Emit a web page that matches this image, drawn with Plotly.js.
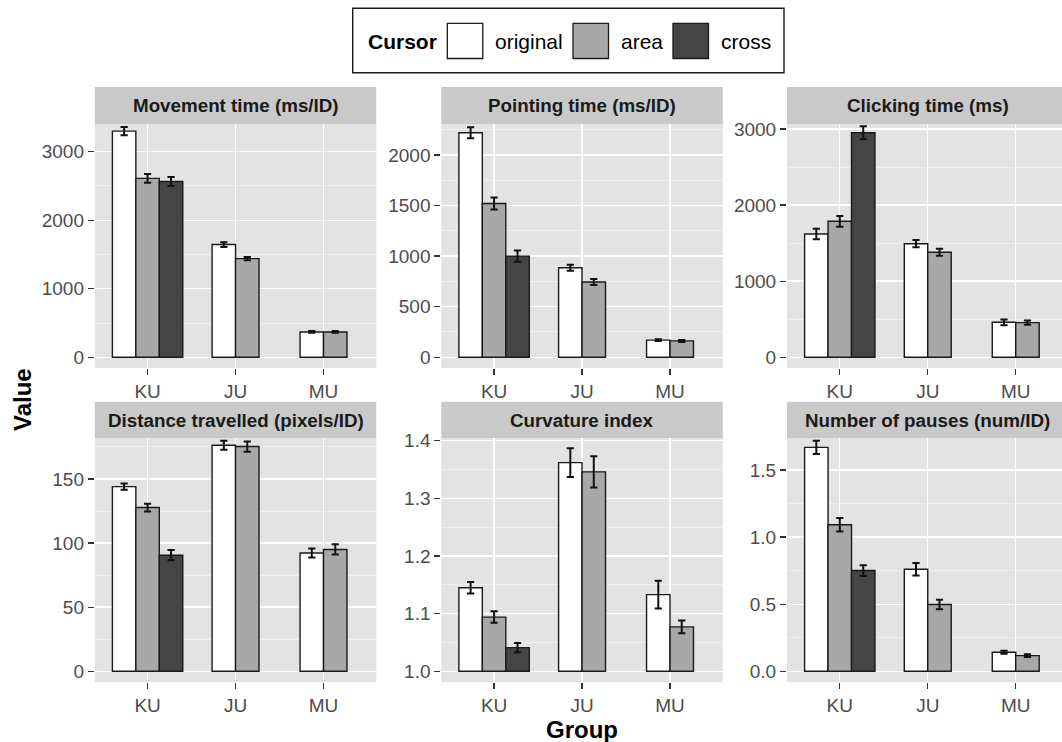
<!DOCTYPE html>
<html>
<head>
<meta charset="utf-8">
<script src="https://cdn.plot.ly/plotly-3.0.1.min.js"></script>
<style>html,body{margin:0;padding:0;background:#fff;}#chart{width:1062px;height:742px;}</style>
</head>
<body>
<div id="chart"></div>
<script>
// ---------------- DATA ----------------
const groups = ['KU', 'JU', 'MU'];
const cursors = ['original', 'area', 'cross'];
const metrics = ['Movement time (ms/ID)', 'Pointing time (ms/ID)', 'Clicking time (ms)',
                 'Distance travelled (pixels/ID)', 'Curvature index', 'Number of pauses (num/ID)'];

// means per metric (rows) for groups KU, JU, MU
const originalMean = [
  [3300, 1645, 370],
  [2220, 885, 170],
  [1620, 1493, 460],
  [144.0, 176.3, 92.3],
  [1.145, 1.362, 1.133],
  [1.669, 0.761, 0.142]
];
const originalErr = [
  [60, 35, 12],
  [55, 30, 8],
  [70, 48, 38],
  [2.5, 3.5, 3.5],
  [0.010, 0.025, 0.024],
  [0.050, 0.047, 0.012]
];
const areaMean = [
  [2610, 1440, 370],
  [1520, 744, 162],
  [1787, 1380, 455],
  [127.7, 175.3, 95.0],
  [1.094, 1.346, 1.077],
  [1.092, 0.498, 0.117]
];
const areaErr = [
  [65, 25, 12],
  [60, 30, 10],
  [70, 45, 28],
  [3.0, 4.0, 4.0],
  [0.010, 0.027, 0.011],
  [0.050, 0.035, 0.010]
];
// cross cursor only measured in KU
const crossGroups = ['KU'];
const crossMean = [[2565], [1000], [2951], [90.5], [1.041], [0.751]];
const crossErr = [[65], [55], [85], [4.0], [0.008], [0.040]];

// y-axis settings per panel
const yRanges = [[-156, 3399], [-106, 2303], [-141, 3062], [-8.6, 181.7], [0.9809, 1.4042], [-0.082, 1.7366]];
const yDticks = [1000, 500, 1000, 50, 0.1, 0.5];
const yFormats = ['', '', '', '', '.1f', '.1f'];
const barBases = [0, 0, 0, 0, 1.0, 0];

// ---------------- STYLE / LAYOUT ----------------
const W = 1062, H = 742;
const px = x => x / W;
const py = y => 1 - y / H;
const colors = {original: '#ffffff', area: '#a8a8a8', cross: '#454545'};
const panelBg = '#e3e3e3';
const stripBg = '#c9c9c9';
const FONT = 'Liberation Sans, Arial, Helvetica, sans-serif';
const colDom = [[94.8, 376.3], [441.3, 722.8], [787, 1062]];
const rowDom = [[124.3, 368], [438.3, 682.3]];
const stripDom = [[87, 124.3], [401.7, 438.3]];
const unitPx = (376.3 - 94.8) / 3.2;
const barW = 0.8 / 3;
const TICK_SIZE = 19;
const STRIP_SIZE = 18.8;

const seriesMean = {original: originalMean, area: areaMean, cross: crossMean};
const seriesErr = {original: originalErr, area: areaErr, cross: crossErr};
const seriesGroups = {original: groups, area: groups, cross: crossGroups};

// dodge: count series present in each group, place bars side by side
function dodgeOffsets(cursorName) {
  const gs = seriesGroups[cursorName];
  return gs.map(g => {
    const present = cursors.filter(c => seriesGroups[c].includes(g));
    const n = present.length;
    const k = present.indexOf(cursorName);
    return -n * barW / 2 + k * barW;
  });
}

const traces = [];
const layout = {
  width: W, height: H,
  margin: {l: 0, r: 0, t: 0, b: 0},
  paper_bgcolor: '#ffffff',
  plot_bgcolor: panelBg,
  barmode: 'overlay',
  showlegend: false,
  font: {family: FONT, color: '#4d4d4d', size: TICK_SIZE},
  shapes: [],
  annotations: []
};

for (let i = 0; i < 6; i++) {
  const row = Math.floor(i / 3), col = i % 3;
  const sfx = i === 0 ? '' : String(i + 1);
  const xa = 'x' + sfx, ya = 'y' + sfx;
  cursors.forEach(c => {
    const base = barBases[i];
    const ys = seriesMean[c][i].map(v => v - base);
    traces.push({
      type: 'bar',
      name: c,
      x: seriesGroups[c],
      y: ys,
      base: seriesGroups[c].map(() => base),
      width: barW,
      offset: dodgeOffsets(c),
      xaxis: xa, yaxis: ya,
      marker: {color: colors[c], line: {color: '#1a1a1a', width: 1.4}},
      error_y: {type: 'data', array: seriesErr[c][i], visible: true, color: '#111111', thickness: 2, width: 3.6},
      hoverinfo: 'x+y+name'
    });
  });

  const cd = colDom[col], rd = rowDom[row];
  const xRangeEnd = -0.6 + (cd[1] - cd[0]) / unitPx;
  layout['xaxis' + sfx] = {
    domain: [px(cd[0]), px(cd[1])],
    anchor: ya,
    type: 'category',
    categoryorder: 'array', categoryarray: groups,
    range: [-0.6, xRangeEnd],
    showgrid: true, gridcolor: '#ffffff', gridwidth: 1.4,
    zeroline: false, showline: false,
    ticks: 'outside', ticklen: 6, tickwidth: 1.3, tickcolor: '#333333',
    tickfont: {family: FONT, size: TICK_SIZE, color: '#4d4d4d'},
    fixedrange: true
  };
  layout['yaxis' + sfx] = {
    domain: [py(rd[1]), py(rd[0])],
    anchor: xa,
    range: yRanges[i],
    tick0: 0, dtick: yDticks[i],
    tickformat: yFormats[i],
    showgrid: true, gridcolor: '#ffffff', gridwidth: 1.4,
    minor: {dtick: yDticks[i] / 2, showgrid: true, gridcolor: '#f4f4f4', gridwidth: 0.7},
    zeroline: false, showline: false,
    ticks: 'outside', ticklen: 6, tickwidth: 1.3, tickcolor: '#333333',
    tickfont: {family: FONT, size: TICK_SIZE, color: '#4d4d4d'},
    fixedrange: true
  };

  // facet strip
  const sd = stripDom[row];
  layout.shapes.push({
    type: 'rect', xref: 'paper', yref: 'paper',
    x0: px(cd[0]), x1: px(cd[1]), y0: py(sd[1]), y1: py(sd[0]),
    fillcolor: stripBg, line: {width: 0}, layer: 'below'
  });
  layout.annotations.push({
    xref: 'paper', yref: 'paper',
    x: px(col === 2 ? (cd[0] + cd[0] + 3.2 * unitPx) / 2 : (cd[0] + cd[1]) / 2),
    y: py((sd[0] + sd[1]) / 2),
    xanchor: 'center', yanchor: 'middle', showarrow: false,
    text: metrics[i],
    font: {family: FONT, size: STRIP_SIZE, color: '#1a1a1a', weight: 'bold'}
  });
}

// axis titles
layout.annotations.push({
  xref: 'paper', yref: 'paper', x: px(23), y: py(400),
  xanchor: 'center', yanchor: 'middle', showarrow: false, textangle: -90,
  text: 'Value', font: {family: FONT, size: 24, color: '#000000', weight: 'bold'}
});
layout.annotations.push({
  xref: 'paper', yref: 'paper', x: px(581.7), y: py(729),
  xanchor: 'center', yanchor: 'middle', showarrow: false,
  text: 'Group', font: {family: FONT, size: 24, color: '#000000', weight: 'bold'}
});

// legend (drawn as shapes + text to match the large ggplot keys)
layout.shapes.push({
  type: 'rect', xref: 'paper', yref: 'paper',
  x0: px(352.7), x1: px(784), y0: py(72.7), y1: py(8.3),
  fillcolor: '#ffffff', line: {color: '#1a1a1a', width: 1.4}
});
layout.annotations.push({
  xref: 'paper', yref: 'paper', x: px(366), y: py(41.5),
  xanchor: 'left', yanchor: 'middle', showarrow: false,
  text: 'Cursor', font: {family: FONT, size: 21, color: '#000000', weight: 'bold'}
});
const keyX = {original: 447.3, area: 573, cross: 673};
const labelX = {original: 492.5, area: 618.5, cross: 718.5};
cursors.forEach(c => {
  layout.shapes.push({
    type: 'rect', xref: 'paper', yref: 'paper',
    x0: px(keyX[c]), x1: px(keyX[c] + 35.5), y0: py(58.5), y1: py(23.3),
    fillcolor: colors[c], line: {color: '#1a1a1a', width: 1.3}
  });
  layout.annotations.push({
    xref: 'paper', yref: 'paper', x: px(labelX[c]), y: py(41.5),
    xanchor: 'left', yanchor: 'middle', showarrow: false,
    text: c, font: {family: FONT, size: 21, color: '#000000'}
  });
});

Plotly.newPlot('chart', traces, layout, {displayModeBar: false, staticPlot: true});
</script>
</body>
</html>
